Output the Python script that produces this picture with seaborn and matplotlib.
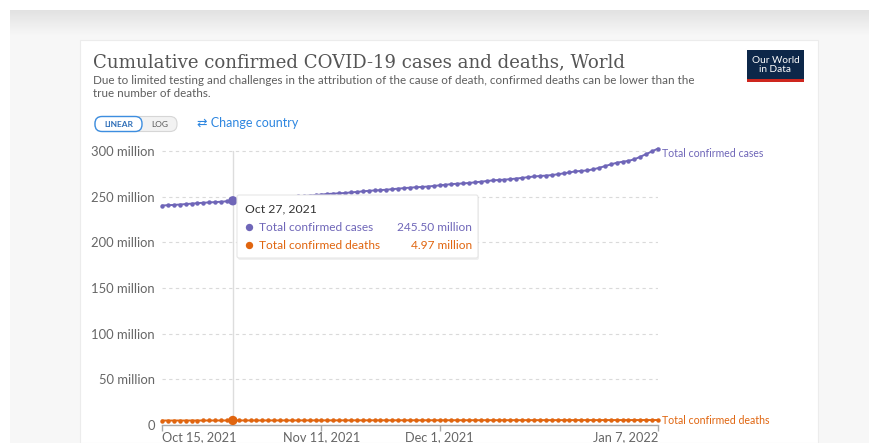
import matplotlib
matplotlib.use("Agg")
import matplotlib.pyplot as plt
from matplotlib.patches import Rectangle, FancyBboxPatch
import pandas as pd
import seaborn as sns

# ---------------- data ----------------
dates = pd.date_range("2021-10-15", "2022-01-07", freq="D")

cases_m = [
    240.30, 240.66, 240.96, 241.38, 241.86, 242.36, 242.86, 243.35, 243.72, 244.02,
    244.45, 244.96, 245.50, 246.02, 246.51, 246.88, 247.17,
    247.57, 248.04, 248.55, 249.07, 249.58, 249.97, 250.27, 250.69, 251.21, 251.77,
    252.34, 252.90, 253.31, 253.63, 254.07, 254.63, 255.22, 255.82, 256.40, 256.83,
    257.16, 257.62, 258.20, 258.80, 259.33, 259.88, 260.30, 260.63, 261.10, 261.72,
    262.38, 263.05, 263.70, 264.16, 264.50, 265.01, 265.68, 266.38, 267.10, 267.80,
    268.28, 268.64, 269.16, 269.85, 270.58, 271.35, 272.10, 272.64, 273.03, 273.63,
    274.50, 275.52, 276.60, 277.65, 278.20, 278.70, 279.90, 281.50, 283.40, 285.30,
    287.10,
    288.20, 289.25, 290.90, 293.70, 296.60, 299.60, 302.70,
]

deaths_m = [
    4.885, 4.892, 4.897, 4.903, 4.911, 4.919, 4.927, 4.935, 4.941, 4.946,
    4.952, 4.962, 4.970, 4.978, 4.985, 4.991, 4.996,
    5.002, 5.010, 5.018, 5.026, 5.033, 5.039, 5.043, 5.049, 5.057, 5.065,
    5.073, 5.080, 5.086, 5.091, 5.097, 5.105, 5.113, 5.121, 5.128, 5.134,
    5.138, 5.144, 5.152, 5.160, 5.167, 5.174, 5.179, 5.183, 5.189, 5.197,
    5.205, 5.213, 5.220, 5.226, 5.230, 5.236, 5.244, 5.252, 5.260, 5.267,
    5.273, 5.277, 5.283, 5.291, 5.299, 5.307, 5.314, 5.320, 5.324, 5.330,
    5.338, 5.346, 5.354, 5.360, 5.364, 5.368, 5.374, 5.382, 5.390, 5.398,
    5.405,
    5.409, 5.413, 5.419, 5.427, 5.435, 5.443, 5.451,
]

series_names = ["Total confirmed cases", "Total confirmed deaths"]
y_ticks = [0, 50, 100, 150, 200, 250, 300]
y_tick_labels = ["0", "50 million", "100 million", "150 million",
                 "200 million", "250 million", "300 million"]
x_ticks = ["2021-10-15", "2021-11-11", "2021-12-01", "2022-01-07"]
x_tick_labels = ["Oct 15, 2021", "Nov 11, 2021", "Dec 1, 2021", "Jan 7, 2022"]
hover_date = "2021-10-27"
hover_label = "Oct 27, 2021"

title = "Cumulative confirmed COVID-19 cases and deaths, World"
subtitle = ("Due to limited testing and challenges in the attribution of the cause of death, "
            "confirmed deaths can be lower than the\ntrue number of deaths.")

# ---------------- style ----------------
sns.set_theme(style="white")
plt.rcParams["font.family"] = ["Lato", "DejaVu Sans"]

C_CASES = "#6f66b8"
C_DEATHS = "#e0650f"
GRAY_TXT = "#666666"
W, H = 870, 443

df = pd.DataFrame({
    "date": list(dates) * 2,
    "value": cases_m + deaths_m,
    "series": [series_names[0]] * len(dates) + [series_names[1]] * len(dates),
})

fig = plt.figure(figsize=(W / 100, H / 100), dpi=100)
fig.patch.set_facecolor("white")

# background layer in pixel coords
bg = fig.add_axes([0, 0, 1, 1])
bg.set_xlim(0, W)
bg.set_ylim(H, 0)
bg.axis("off")
bg.add_patch(Rectangle((10, 10), W - 10, H - 10, color="#f7f7f7", lw=0))
n_steps = 25
for i in range(n_steps):
    t = i / (n_steps - 1)
    g = 0.885 + (0.965 - 0.885) * t
    bg.add_patch(Rectangle((10, 10 + i), W - 10, 1.05, color=(g, g, g), lw=0))
bg.add_patch(Rectangle((80, 40), 738, H - 40, facecolor="white",
                       edgecolor="#ececec", lw=0.8))

# main axes: x 162..658 px, y 0 -> 425px, 300M -> 151px
px_per_m = (425 - 151) / 300
ytop = 305
top_px = 425 - ytop * px_per_m
ax = fig.add_axes([162 / W, (H - 425) / H, (658 - 162) / W, (425 - top_px) / H])
ax.set_facecolor("none")

sns.lineplot(data=df, x="date", y="value", hue="series",
             palette={series_names[0]: C_CASES, series_names[1]: C_DEATHS},
             marker="o", markersize=3.2, markeredgewidth=0, linewidth=1.4,
             legend=False, ax=ax, clip_on=False, zorder=3)

hov = df[df["date"] == pd.Timestamp(hover_date)]
ax.axvline(pd.Timestamp(hover_date), ymax=(300.5 / ytop), color="#dddddd", lw=1, zorder=1)
sns.scatterplot(data=hov, x="date", y="value", hue="series",
                palette={series_names[0]: C_CASES, series_names[1]: C_DEATHS},
                s=45, linewidth=0, legend=False, ax=ax, zorder=4, clip_on=False)

ax.set_xlim(dates[0], dates[-1])
ax.set_ylim(0, ytop)
ax.set_yticks(y_ticks)
ax.set_yticklabels(y_tick_labels)
ax.set_xticks(pd.to_datetime(x_ticks))
ax.set_xticklabels(x_tick_labels)
for lab, ha in zip(ax.get_xticklabels(), ["left", "center", "center", "right"]):
    lab.set_ha(ha)
ax.set_xlabel("")
ax.set_ylabel("")
ax.grid(axis="y", color="#dadada", linestyle=(0, (3, 3)), lw=0.8)
ax.grid(axis="x", visible=False)
for s in ["top", "right", "left"]:
    ax.spines[s].set_visible(False)
ax.spines["bottom"].set_color("#aaaaaa")
ax.spines["bottom"].set_linewidth(1)
ax.tick_params(axis="y", length=0, pad=5, labelsize=9.4, labelcolor=GRAY_TXT)
ax.tick_params(axis="x", length=4, width=1, color="#aaaaaa", pad=0.5,
               labelsize=9.2, labelcolor=GRAY_TXT, direction="out", bottom=True)

# end labels
ax.annotate(series_names[0], xy=(dates[-1], cases_m[-1]), xytext=(4, -5),
            textcoords="offset pixels", color=C_CASES, fontsize=7.6,
            va="center", ha="left", annotation_clip=False)
ax.annotate(series_names[1], xy=(dates[-1], deaths_m[-1]), xytext=(4, 0),
            textcoords="offset pixels", color=C_DEATHS, fontsize=7.6,
            va="center", ha="left", annotation_clip=False)

# overlay in pixel coords
ov = fig.add_axes([0, 0, 1, 1])
ov.set_xlim(0, W)
ov.set_ylim(H, 0)
ov.axis("off")
ov.patch.set_alpha(0)

# title, subtitle
ov.text(93, 62.5, title, family=["DejaVu Serif"], fontsize=13.1,
        color="#555555", va="center", ha="left")
ov.text(93, 87, subtitle, fontsize=8.35, color="#5e5e5e", va="center",
        ha="left", linespacing=1.25)

# logo
ov.add_patch(Rectangle((747, 50), 57, 30, facecolor="#0d2749", lw=0))
ov.add_patch(Rectangle((747, 79), 57, 3, facecolor="#ce261e", lw=0))
ov.text(775.5, 64.5, "Our World\nin Data", color="white", fontsize=7.2,
        ha="center", va="center", linespacing=1.0)

# linear / log buttons
ov.add_patch(FancyBboxPatch((95, 116.5), 82, 15, boxstyle="round,pad=0,rounding_size=7",
                            facecolor="#f2f2f2", edgecolor="#d6d6d6", lw=0.8))
ov.add_patch(FancyBboxPatch((95, 116.5), 47, 15, boxstyle="round,pad=0,rounding_size=7",
                            facecolor="white", edgecolor="#3d8ee0", lw=1.0))
ov.text(118.5, 124.3, "LINEAR", color="#2f6fb8", fontsize=6.0, fontweight="bold",
        ha="center", va="center")
ov.text(160, 124.3, "LOG", color="#555555", fontsize=6.0, ha="center", va="center")
ov.text(197, 123, "\u21c4 Change country", family=["Lato", "DejaVu Sans"],
        color="#2d86e0", fontsize=9.0, ha="left", va="center")

# tooltip
ov.add_patch(FancyBboxPatch((238, 197), 241, 63, boxstyle="round,pad=0,rounding_size=2",
                            facecolor="#000000", alpha=0.06, lw=0))
ov.add_patch(FancyBboxPatch((237, 195), 241, 63, boxstyle="round,pad=0,rounding_size=2",
                            facecolor="white", edgecolor="#e6e6e6", lw=0.8))
ov.text(245, 208.5, hover_label, color="#333333", fontsize=8.8, ha="left", va="center")
i_h = list(dates).index(pd.Timestamp(hover_date))
rows = [(series_names[0], f"{cases_m[i_h]:.2f} million", C_CASES, 227),
        (series_names[1], f"{deaths_m[i_h]:.2f} million", C_DEATHS, 245)]
for name, val, col, yy in rows:
    ov.scatter([249.5], [yy], s=28, color=col, lw=0)
    ov.text(259, yy, name, color=col, fontsize=8.6, ha="left", va="center")
    ov.text(472, yy, val, color=col, fontsize=8.6, ha="right", va="center")

fig.savefig("out.png", dpi=100)
